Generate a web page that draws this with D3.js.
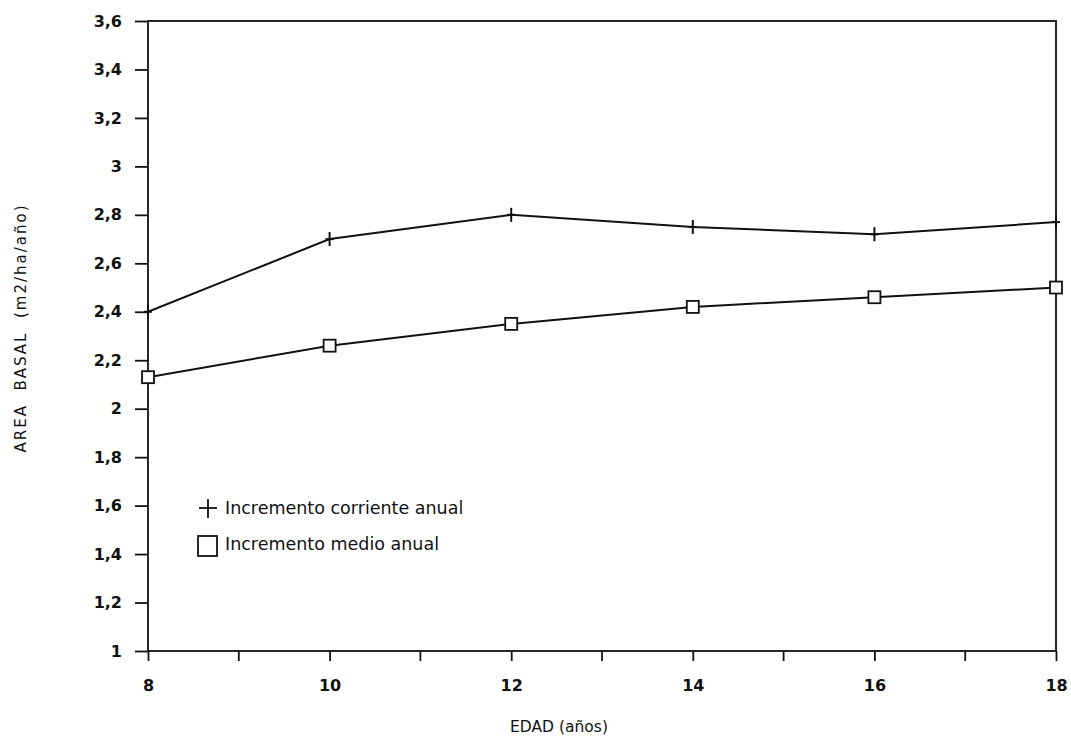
<!DOCTYPE html>
<html>
<head>
<meta charset="utf-8">
<script src="https://cdn.jsdelivr.net/npm/d3@7"></script>
<style>
  body { margin: 0; background: #fff; }
  text { font-family: "DejaVu Sans", sans-serif; fill: #111; }
</style>
</head>
<body>
<div id="chart"></div>
<script>
var ages = [8, 10, 12, 14, 16, 18];
var corriente = [2.40, 2.70, 2.80, 2.75, 2.72, 2.77];
var medio = [2.13, 2.26, 2.35, 2.42, 2.46, 2.50];
var yTicks = [1, 1.2, 1.4, 1.6, 1.8, 2, 2.2, 2.4, 2.6, 2.8, 3, 3.2, 3.4, 3.6];
var xTicks = [8, 10, 12, 14, 16, 18];
var xMinor = [9, 11, 13, 15, 17];

var margin = { top: 21, right: 15, bottom: 86, left: 148 },
  width = 1071 - margin.left - margin.right,
  height = 737 - margin.top - margin.bottom;

var fmt = function (d) { return String(d).replace('.', ','); };

var svg = d3.select('#chart').append('svg').attr('width', 1071).attr('height', 737);
var g = svg.append('g').attr('transform', 'translate(' + margin.left + ',' + margin.top + ')');

var x = d3.scaleLinear().domain([8, 18]).range([0, width]);
var y = d3.scaleLinear().domain([1, 3.6]).range([height, 0]);

// frame
g.append('rect').attr('width', width).attr('height', height)
  .attr('fill', 'none').attr('stroke', '#111').attr('stroke-width', 1.8);

var yAxis = g.append('g').call(d3.axisLeft(y).tickValues(yTicks).tickFormat(fmt).tickSize(13).tickPadding(13));
yAxis.select('.domain').remove();
yAxis.selectAll('line').attr('stroke', '#111').attr('stroke-width', 1.8);
yAxis.selectAll('text').style('font-size', '16px').style('font-weight', 'bold');

var xAxis = g.append('g').attr('transform', 'translate(0,' + height + ')')
  .call(d3.axisBottom(x).tickValues(xTicks).tickFormat(d3.format('d')).tickSize(10).tickPadding(19));
xAxis.select('.domain').remove();
xAxis.selectAll('line').attr('stroke', '#111').attr('stroke-width', 1.8);
xAxis.selectAll('text').style('font-size', '16px').style('font-weight', 'bold');

g.append('g').selectAll('line').data(xMinor).join('line')
  .attr('x1', d => x(d)).attr('x2', d => x(d))
  .attr('y1', height).attr('y2', height + 10)
  .attr('stroke', '#111').attr('stroke-width', 1.8);

var line = d3.line().x((d, i) => x(ages[i])).y(d => y(d));

g.append('path').datum(corriente).attr('d', line)
  .attr('fill', 'none').attr('stroke', '#111').attr('stroke-width', 2);
g.append('path').datum(medio).attr('d', line)
  .attr('fill', 'none').attr('stroke', '#111').attr('stroke-width', 2);

// plus markers
var plus = g.append('g').selectAll('g').data(corriente).join('g')
  .attr('transform', (d, i) => 'translate(' + x(ages[i]) + ',' + y(d) + ')');
plus.append('line').attr('x1', 0).attr('x2', 0).attr('y1', -7).attr('y2', 7)
  .attr('stroke', '#111').attr('stroke-width', 2);
plus.append('line').attr('x1', -4).attr('x2', 4).attr('y1', 0).attr('y2', 0)
  .attr('stroke', '#111').attr('stroke-width', 2);

// square markers
g.append('g').selectAll('rect').data(medio).join('rect')
  .attr('x', (d, i) => x(ages[i]) - 6).attr('y', d => y(d) - 6)
  .attr('width', 12).attr('height', 12)
  .attr('fill', '#fff').attr('stroke', '#111').attr('stroke-width', 1.8);

// legend
var leg = svg.append('g');
leg.append('line').attr('x1', 208).attr('x2', 208).attr('y1', 499).attr('y2', 518)
  .attr('stroke', '#111').attr('stroke-width', 1.8);
leg.append('line').attr('x1', 199).attr('x2', 217).attr('y1', 508).attr('y2', 508)
  .attr('stroke', '#111').attr('stroke-width', 1.8);
leg.append('text').attr('x', 225).attr('y', 514).text('Incremento corriente anual')
  .style('font-size', '17.5px');
leg.append('rect').attr('x', 198).attr('y', 536).attr('width', 19).attr('height', 20)
  .attr('fill', 'none').attr('stroke', '#111').attr('stroke-width', 1.8);
leg.append('text').attr('x', 225).attr('y', 550).text('Incremento medio anual')
  .style('font-size', '17.5px');

// axis titles
svg.append('text').attr('x', 559).attr('y', 732).attr('text-anchor', 'middle')
  .style('font-size', '15.5px').text('EDAD (años)');
svg.append('text').attr('transform', 'translate(26,328) rotate(-90)').attr('text-anchor', 'middle')
  .style('font-size', '15px').style('letter-spacing', '2px').style('white-space', 'pre')
  .text('AREA  BASAL  (m2/ha/año)');
</script>
</body>
</html>
